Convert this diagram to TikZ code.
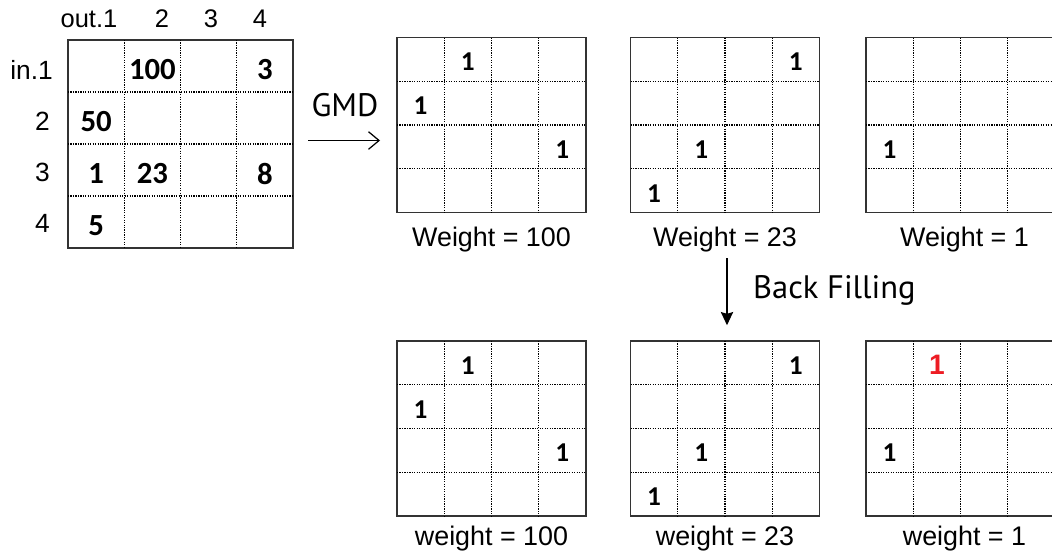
\documentclass[tikz,border=0pt]{standalone}
\usepackage{fontspec}
\setmainfont{Liberation Sans}
\newfontfamily\numfont{Carlito}
\newfontfamily\capfont{PT Sans}
\usetikzlibrary{arrows.meta, positioning, calc}
\definecolor{framegray}{HTML}{333333}
\definecolor{fillred}{HTML}{ED1C24}

\begin{document}
\begin{tikzpicture}[x=0.02cm, y=-0.02cm,
  mat/.style={rectangle, draw=framegray, line width=1.1pt, inner sep=0pt, outer sep=0pt},
  bigmat/.style={mat, minimum width=4.5cm, minimum height=4.16cm},
  smallmat/.style={mat, minimum width=3.78cm, minimum height=3.5cm},
  cellline/.style={line width=0.75pt, dash pattern=on 0.7pt off 0.7pt},
  collabel/.style={font=\fontsize{14.5}{17}\selectfont},
  rowlabel/.style={font=\fontsize{15}{17}\selectfont, anchor=east},
  bignum/.style={font=\numfont\bfseries\fontsize{17.5}{20}\selectfont, yshift=-2pt},
  onenum/.style={font=\numfont\bfseries\fontsize{15.5}{18}\selectfont, yshift=-1.5pt},
  rednum/.style={font=\bfseries\fontsize{16}{18}\selectfont, text=fillred, yshift=-1pt},
  wlabel/.style={font=\fontsize{15.3}{17}\selectfont, anchor=base},
  steplabel/.style={font=\capfont\fontsize{18.5}{21}\selectfont},
  gmdarrow/.style={-{Straight Barb[length=6pt, width=10pt]}, line width=0.7pt},
  backarrow/.style={-{Stealth[length=7.5pt, width=7pt, inset=1pt]}, line width=0.7pt}]

\clip (0,0) rectangle (1052,556);

% input matrix
\node[bigmat] (big) at (180.5,144) {};
\node[collabel] (out1) at (89,19) {out.1};
\node[collabel] (out2) at (162,19) {2};
\node[collabel] (out3) at (211,19) {3};
\node[collabel] (out4) at (260,19) {4};
\node[rowlabel] (in1) at (59,70) {in.1};
\node[rowlabel] (in2) at (56,121) {2};
\node[rowlabel] (in3) at (56,172) {3};
\node[rowlabel] (in4) at (56,223) {4};

% decomposed matrices
\node[smallmat] (m2) at (491.5,125) {};
\node[smallmat] (m3) at (725,125) {};
\node[smallmat] (m4) at (960.5,125) {};
\node[smallmat] (bm2) at (491.5,428.5) {};
\node[smallmat] (bm3) at (725,428.5) {};
\node[smallmat] (bm4) at (960.5,428.5) {};

\foreach \m in {big,m2,m3,m4,bm2,bm3,bm4}{
  \foreach \i in {1,2,3}{
    \draw[cellline] ($(\m.north west)!{\i/4}!(\m.north east)$) -- ($(\m.south west)!{\i/4}!(\m.south east)$);
    \draw[cellline] ($(\m.north west)!{\i/4}!(\m.south west)$) -- ($(\m.north east)!{\i/4}!(\m.south east)$);
  }
}

% entries
\foreach \m/\r/\c/\v/\s in {big/1/2/100/bignum, big/1/4/3/bignum, big/2/1/50/bignum,
    big/3/1/1/bignum, big/3/2/23/bignum, big/3/4/8/bignum, big/4/1/5/bignum,
    m2/1/2/1/onenum, m2/2/1/1/onenum, m2/3/4/1/onenum,
    m3/1/4/1/onenum, m3/3/2/1/onenum, m3/4/1/1/onenum,
    m4/3/1/1/onenum,
    bm2/1/2/1/onenum, bm2/2/1/1/onenum, bm2/3/4/1/onenum,
    bm3/1/4/1/onenum, bm3/3/2/1/onenum, bm3/4/1/1/onenum,
    bm4/1/2/1/rednum, bm4/3/1/1/onenum}{
  \coordinate (\m-top\r\c) at ($(\m.north west)!{(\c-0.5)/4}!(\m.north east)$);
  \coordinate (\m-bot\r\c) at ($(\m.south west)!{(\c-0.5)/4}!(\m.south east)$);
  \node[\s] (\m-\r\c) at ($(\m-top\r\c)!{(\r-0.5)/4}!(\m-bot\r\c)$) {\v};
}

% weights
\node[wlabel] (w100) at ($(m2.south)+(0,34)$) {Weight = 100};
\node[wlabel] (w23) at ($(m3.south)+(0,34)$) {Weight = 23};
\node[wlabel] (w1) at ($(m4.south)+(4,34)$) {Weight = 1};
\node[wlabel] (bw100) at ($(bm2.south)+(0,30)$) {weight = 100};
\node[wlabel] (bw23) at ($(bm3.south)+(0,30)$) {weight = 23};
\node[wlabel] (bw1) at ($(bm4.south)+(4,30)$) {weight = 1};

% steps
\node[steplabel, anchor=base] (gmd) at (345,116) {GMD};
\coordinate (gmdtail) at (308,140.5);
\draw[gmdarrow] (gmdtail) -- ([xshift=-17*0.02cm]gmdtail -| m2.west);

\node[steplabel, anchor=base west] (backfill) at (747,298) {Back Filling};
\draw[backarrow, shorten >=9pt] ([xshift=2*0.02cm]w23.south) -- ([xshift=2*0.02cm]w23.south |- bm3.north);
\end{tikzpicture}
\end{document}
